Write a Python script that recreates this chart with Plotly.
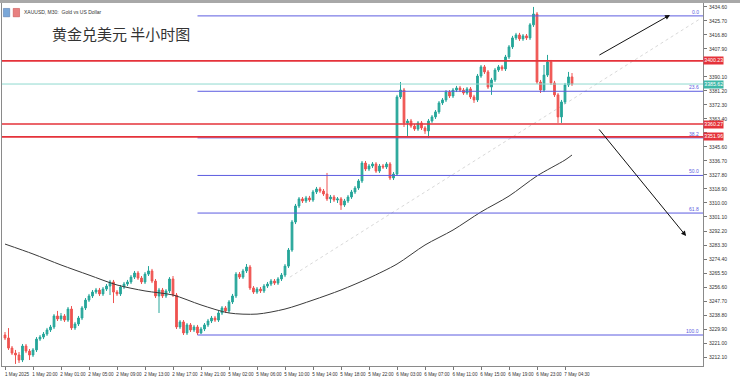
import plotly.graph_objects as go

# ---------------- data ----------------
bar_index = list(range(163))
opens = [3226.1,3224.2,3217.8,3214.6,3213.4,3210.2,3219.1,3215.9,3213.4,3216.6,
 3223.5,3224.8,3226.7,3229.3,3231.2,3238.2,3236.3,3238.2,3235.6,3242.6,
 3230.6,3233.1,3236.9,3243.3,3248.3,3250.9,3253.4,3254.7,3252.2,3255.3,
 3257.2,3259.8,3253.4,3252.2,3256.6,3258.5,3259.8,3262.9,3265.5,3262.3,
 3259.8,3264.8,3266.8,3260.4,3250.9,3254.7,3250.9,3254.1,3261.7,3251.5,
 3231.2,3234.4,3227.4,3232.5,3229.3,3231.2,3227.4,3229.9,3232.5,3235.0,
 3236.9,3235.6,3240.1,3243.3,3241.4,3247.1,3250.9,3264.8,3262.9,3266.8,
 3269.3,3256.0,3253.4,3255.3,3254.1,3257.2,3258.5,3260.4,3259.1,3261.7,
 3264.2,3269.9,3280.1,3297.9,3308.1,3312.6,3311.3,3313.2,3311.9,3317.0,
 3318.9,3317.6,3315.7,3312.6,3313.8,3311.9,3312.6,3308.7,3311.3,3313.8,
 3317.0,3319.5,3324.0,3335.4,3331.6,3333.5,3334.8,3330.3,3333.5,3332.9,
 3334.8,3325.9,3328.4,3377.4,3381.8,3360.9,3362.1,3358.9,3357.0,3360.9,
 3357.7,3355.8,3362.1,3364.7,3367.9,3373.6,3375.5,3380.5,3378.0,3381.8,
 3383.1,3381.8,3379.9,3382.5,3377.4,3375.5,3390.7,3396.5,3393.3,3383.7,
 3388.2,3394.5,3396.5,3395.2,3402.8,3409.2,3414.9,3416.8,3414.3,3416.2,
 3414.9,3423.2,3430.1,3386.9,3381.8,3391.3,3399.6,3386.3,3378.7,3364.7,
 3374.2,3385.0,3390.1]
closes = [3224.2,3217.8,3214.6,3213.4,3210.2,3219.1,3215.9,3213.4,3216.6,3223.5,
 3224.8,3226.7,3229.3,3231.2,3238.2,3236.3,3238.2,3235.6,3242.6,3230.6,
 3233.1,3236.9,3243.3,3248.3,3250.9,3253.4,3254.7,3252.2,3255.3,3257.2,
 3259.8,3253.4,3252.2,3256.6,3258.5,3259.8,3262.9,3265.5,3262.3,3259.8,
 3264.8,3266.8,3260.4,3250.9,3254.7,3250.9,3254.1,3261.7,3251.5,3231.2,
 3234.4,3227.4,3232.5,3229.3,3231.2,3227.4,3229.9,3232.5,3235.0,3236.9,
 3235.6,3240.1,3243.3,3241.4,3247.1,3250.9,3264.8,3262.9,3266.8,3269.3,
 3256.0,3253.4,3255.3,3254.1,3257.2,3258.5,3260.4,3259.1,3261.7,3264.2,
 3269.9,3280.1,3297.9,3308.1,3312.6,3311.3,3313.2,3311.9,3317.0,3318.9,
 3317.6,3315.7,3312.6,3313.8,3311.9,3312.6,3308.7,3311.3,3313.8,3317.0,
 3319.5,3324.0,3335.4,3331.6,3333.5,3334.8,3330.3,3333.5,3332.9,3334.8,
 3325.9,3328.4,3377.4,3381.8,3360.9,3362.1,3358.9,3357.0,3360.9,3357.7,
 3355.8,3362.1,3364.7,3367.9,3373.6,3375.5,3380.5,3378.0,3381.8,3383.1,
 3381.8,3379.9,3382.5,3377.4,3375.5,3390.7,3396.5,3393.3,3383.7,3388.2,
 3394.5,3396.5,3395.2,3402.8,3409.2,3414.9,3416.8,3414.3,3416.2,3414.9,
 3423.2,3430.1,3386.9,3381.8,3391.3,3399.6,3386.3,3378.7,3364.7,3374.2,
 3385.0,3390.1,3385.6]
highs = [3228.0,3230.5,3219.1,3216.6,3215.3,3220.4,3220.4,3217.2,3217.8,3224.8,
 3226.1,3228.0,3230.6,3232.5,3239.4,3241.4,3240.1,3239.4,3243.9,3244.5,
 3234.4,3238.2,3244.5,3249.6,3252.2,3254.7,3256.0,3256.0,3256.6,3258.5,
 3261.1,3261.1,3254.7,3257.9,3259.8,3261.1,3264.2,3266.8,3266.8,3263.6,
 3266.1,3269.9,3268.1,3261.7,3256.0,3256.0,3255.3,3262.9,3263.6,3252.8,
 3235.6,3235.6,3233.7,3233.7,3232.5,3232.5,3231.2,3233.7,3236.3,3238.2,
 3238.2,3241.4,3244.5,3244.5,3248.3,3252.2,3266.1,3266.1,3268.1,3271.2,
 3270.6,3257.2,3256.6,3256.6,3258.5,3259.8,3261.7,3261.7,3262.9,3265.5,
 3271.2,3281.4,3299.2,3309.4,3313.8,3313.8,3314.5,3314.5,3318.3,3320.2,
 3320.2,3318.9,3329.1,3315.1,3315.1,3313.8,3313.8,3312.6,3315.1,3318.3,
 3320.8,3325.2,3336.7,3336.7,3334.8,3336.0,3336.0,3334.8,3334.8,3336.0,
 3336.0,3329.7,3378.7,3386.9,3383.1,3363.4,3363.4,3360.2,3362.1,3362.1,
 3358.9,3363.4,3365.9,3369.1,3374.8,3376.7,3381.8,3381.8,3383.1,3384.4,
 3384.4,3383.1,3383.7,3383.7,3378.7,3392.0,3397.7,3397.7,3394.5,3389.5,
 3395.8,3397.7,3397.7,3404.1,3410.4,3416.2,3418.1,3418.1,3417.4,3417.4,
 3424.4,3434.6,3431.4,3388.2,3397.7,3404.1,3400.9,3387.6,3379.9,3375.5,
 3386.3,3393.3,3392.6]
lows = [3222.9,3216.6,3213.4,3207.7,3208.3,3208.9,3214.6,3210.2,3212.1,3215.3,
 3222.3,3223.5,3225.5,3228.0,3229.9,3235.0,3235.0,3234.4,3234.4,3229.3,
 3229.3,3231.8,3235.6,3242.0,3247.1,3249.6,3252.2,3250.9,3250.9,3254.1,
 3251.5,3246.4,3250.9,3250.9,3255.3,3257.2,3258.5,3261.7,3261.1,3258.5,
 3258.5,3263.6,3259.1,3249.6,3240.1,3249.6,3249.6,3252.8,3250.3,3229.9,
 3229.9,3226.1,3226.1,3228.0,3228.0,3226.1,3226.7,3228.6,3231.2,3233.7,
 3234.4,3234.4,3238.8,3240.1,3240.1,3245.8,3249.6,3261.7,3261.7,3265.5,
 3254.7,3252.2,3252.2,3252.8,3252.8,3256.0,3257.2,3257.9,3257.9,3260.4,
 3262.9,3268.7,3278.9,3296.6,3306.8,3310.0,3310.0,3310.7,3310.7,3315.7,
 3316.4,3314.5,3311.3,3310.0,3310.7,3310.0,3305.6,3307.5,3310.0,3312.6,
 3315.7,3318.3,3322.7,3330.3,3330.3,3332.2,3329.1,3329.1,3331.6,3331.6,
 3324.6,3324.6,3327.2,3376.1,3358.3,3351.9,3357.7,3355.8,3355.8,3356.4,
 3353.9,3351.3,3360.9,3363.4,3366.6,3372.3,3374.2,3376.7,3376.7,3380.5,
 3380.5,3378.7,3378.7,3376.1,3373.6,3374.2,3389.5,3392.0,3382.5,3378.7,
 3386.9,3393.3,3393.9,3393.9,3401.5,3407.9,3413.6,3413.0,3413.0,3413.6,
 3413.6,3421.9,3385.6,3379.9,3380.5,3390.1,3385.0,3377.4,3360.9,3360.9,
 3372.9,3383.7,3384.4]

ma_index = [0, 8, 16, 24, 32, 40, 48, 56, 64, 72, 80, 88, 96, 104, 112, 120, 128, 136, 144, 152, 160, 162]
ma_values = [3283.9, 3277.6, 3270.6, 3264.2, 3257.9, 3254.1, 3251.5, 3245.2, 3240.1, 3239.4, 3242.6,
             3248.3, 3254.7, 3262.3, 3271.2, 3283.3, 3292.8, 3304.3, 3314.4, 3327.2, 3337.3, 3340.5]

fib_labels = ["0.0", "23.6", "38.2", "50.0", "61.8", "100.0"]
fib_prices = [3428.9, 3381.0, 3351.4, 3327.5, 3303.6, 3226.1]
fib_start_bar = 55

red_levels = [3400.3, 3360.2, 3352.0]
red_level_text = ["3400.23", "3360.27", "3351.96"]
bid_price = 3385.6
bid_text = "3385.62"

x_tick_index = [0, 8, 16, 24, 32, 40, 48, 56, 64, 72, 80, 88, 96, 104, 112, 120, 128, 136, 144, 152, 160]
x_tick_text = ["1 May 2025", "1 May 20:00", "2 May 01:00", "2 May 05:00", "2 May 09:00", "2 May 13:00",
               "2 May 17:00", "2 May 21:00", "5 May 02:00", "5 May 06:00", "5 May 10:00", "5 May 14:00",
               "5 May 18:00", "5 May 22:00", "6 May 03:00", "6 May 07:00", "6 May 11:00", "6 May 15:00",
               "6 May 19:00", "6 May 23:00", "7 May 04:30"]
y_tick_vals = [3212.1, 3221.0, 3229.9, 3238.8, 3247.7, 3256.6, 3265.5, 3274.4, 3283.3, 3292.2, 3301.1,
               3310.0, 3318.9, 3327.8, 3336.7, 3345.6, 3354.5, 3363.4, 3372.3, 3381.2, 3390.1, 3399.0,
               3407.9, 3416.8, 3425.7, 3434.6]
# tick labels that sit under the coloured price boxes are hidden on the original chart
y_tick_hidden = [3399.0, 3354.5]

X_MIN, X_MAX = -0.86, 199.43
Y_MIN, Y_MAX = 3206.4, 3437.1

GREEN = "#26a69a"
RED = "#ef5350"
FIB = "#5c5ce0"
LINE_RED = "#e5323a"

fig = go.Figure()

fig.add_trace(go.Candlestick(
    x=bar_index, open=opens, high=highs, low=lows, close=closes,
    increasing=dict(line=dict(color=GREEN, width=1), fillcolor=GREEN),
    decreasing=dict(line=dict(color=RED, width=1), fillcolor=RED),
    whiskerwidth=0, showlegend=False, hoverinfo="skip"))

fig.add_trace(go.Scatter(x=ma_index, y=ma_values, mode="lines",
                         line=dict(color="#3a3a3a", width=1, shape="spline", smoothing=0.8),
                         showlegend=False, hoverinfo="skip"))

shapes = []
shapes.append(dict(type="line", xref="x", yref="y", x0=81.4, y0=3262.9, x1=199.0, y1=3427.6,
                   line=dict(color="#d9d9d9", width=1, dash="dot"), layer="below"))
for p in fib_prices:
    shapes.append(dict(type="line", xref="x", yref="y", x0=fib_start_bar, x1=X_MAX, y0=p, y1=p,
                       line=dict(color=FIB, width=1)))
shapes.append(dict(type="line", xref="paper", yref="y", x0=0, x1=1, y0=bid_price, y1=bid_price,
                   line=dict(color="#8fd9cf", width=1)))
for p in red_levels:
    shapes.append(dict(type="line", xref="paper", yref="y", x0=0, x1=1, y0=p, y1=p,
                       line=dict(color=LINE_RED, width=1.6)))
shapes.append(dict(type="rect", xref="paper", yref="paper", x0=-0.01, x1=1.06, y0=1.0, y1=1.012,
                   fillcolor="#a8a8a8", line=dict(width=0)))
shapes.append(dict(type="rect", xref="paper", yref="paper", x0=0.002, x1=0.011, y0=0.962, y1=0.985,
                   fillcolor="#7aa7d8", line=dict(color="#4a6fa5", width=0.5)))
shapes.append(dict(type="rect", xref="paper", yref="paper", x0=0.016, x1=0.025, y0=0.962, y1=0.985,
                   fillcolor="#e88080", line=dict(color="#c04040", width=0.5)))

annotations = []
for lab, p in zip(fib_labels, fib_prices):
    annotations.append(dict(x=0.997, xref="paper", y=p, yref="y", text=lab, showarrow=False,
                            xanchor="right", yanchor="bottom", yshift=-1,
                            font=dict(size=5, color=FIB, family="Liberation Sans")))
for p, t in zip(red_levels, red_level_text):
    annotations.append(dict(x=1.0, xref="paper", y=p, yref="y", text=t, showarrow=False,
                            xanchor="left", yanchor="middle", bgcolor=LINE_RED, borderpad=0.3,
                            font=dict(size=5.2, color="white", family="Liberation Sans")))
annotations.append(dict(x=1.0, xref="paper", y=bid_price, yref="y", text=bid_text, showarrow=False,
                        xanchor="left", yanchor="middle", bgcolor="#3fb8a8", borderpad=0.3,
                        font=dict(size=5.2, color="white", family="Liberation Sans")))
annotations.append(dict(x=190.0, y=3429.5, ax=169.4, ay=3403.5, xref="x", yref="y", axref="x", ayref="y",
                        showarrow=True, arrowhead=2, arrowsize=1, arrowwidth=1, arrowcolor="#111", text=""))
annotations.append(dict(x=194.6, y=3289.0, ax=169.4, ay=3357.7, xref="x", yref="y", axref="x", ayref="y",
                        showarrow=True, arrowhead=2, arrowsize=1, arrowwidth=1, arrowcolor="#111", text=""))
annotations.append(dict(x=0.028, xref="paper", y=0.974, yref="paper", text="XAUUSD, M30:  Gold vs US Dollar",
                        showarrow=False, xanchor="left", yanchor="middle",
                        font=dict(size=5, color="#333", family="Liberation Sans")))
annotations.append(dict(x=0.069, xref="paper", y=0.917, yref="paper", text="黄金兑美元 半小时图",
                        showarrow=False, xanchor="left", yanchor="middle",
                        font=dict(size=15, color="#333", family="Noto Sans CJK SC")))

fig.update_layout(
    width=740, height=382,
    margin=dict(l=2, r=37, t=3, b=16),
    paper_bgcolor="white", plot_bgcolor="white",
    shapes=shapes, annotations=annotations,
    xaxis=dict(range=[X_MIN, X_MAX], rangeslider=dict(visible=False), showgrid=False, zeroline=False,
               automargin=False, tickangle=0,
               tickmode="array", tickvals=x_tick_index, ticktext=x_tick_text,
               ticks="outside", ticklen=3, tickcolor="#777", ticklabelshift=12, ticklabelstandoff=0,
               tickfont=dict(size=4.6, color="#333", family="Liberation Sans"),
               showline=True, linecolor="#8a8a8a", linewidth=1, mirror=True),
    yaxis=dict(range=[Y_MIN, Y_MAX], side="right", showgrid=False, zeroline=False,
               automargin=False,
               tickmode="array", tickvals=y_tick_vals,
               ticktext=["" if v in y_tick_hidden else "%.2f" % v for v in y_tick_vals],
               ticks="outside", ticklen=3, tickcolor="#777", ticklabelstandoff=1,
               tickfont=dict(size=5, color="#333", family="Liberation Sans"),
               showline=True, linecolor="#8a8a8a", linewidth=1, mirror=True),
)

fig.write_html("out.html", config={"displayModeBar": False},
               post_script="document.body.style.margin='0';document.body.style.overflow='hidden';")
